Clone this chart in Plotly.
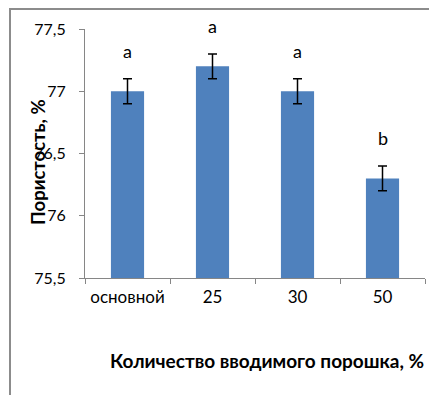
import plotly.graph_objects as go

categories = ["основной", "25", "30", "50"]
values = [77.0, 77.2, 77.0, 76.3]
errors = [0.1, 0.1, 0.1, 0.1]
letters = ["a", "a", "a", "b"]
y_ticks = [75.5, 76.0, 76.5, 77.0, 77.5]
y_ticktext = ["75,5", "76", "76,5", "77", "77,5"]

W, H = 437, 395
L, R, T, B = 77, 20, 21, 125
pw, ph = W - L - R, H - T - B

def px_x(p):
    return (p - L) / pw

def px_y(p):
    return (H - B - p) / ph

FONT = "Lato"

fig = go.Figure()
fig.add_trace(go.Bar(
    x=categories, y=values,
    marker=dict(color="#4F81BD", line=dict(width=0)),
    width=0.39,
    error_y=dict(type="data", array=errors, visible=True,
                 color="black", thickness=1.5, width=4.5),
))

annotations = []
for i, (v, e, t) in enumerate(zip(values, errors, letters)):
    annotations.append(dict(x=i, y=v + e, xref="x", yref="y", text=t,
                            showarrow=False, yanchor="bottom", yshift=15,
                            font=dict(family=FONT, size=18, color="black")))
annotations.append(dict(x=px_x(418), y=px_y(352), xref="paper", yref="paper",
                        text="<b>Количество вводимого порошка, %</b>",
                        showarrow=False, xanchor="right", yanchor="middle",
                        font=dict(family=FONT, size=19, color="black")))
annotations.append(dict(x=px_x(30), y=px_y(154), xref="paper", yref="paper",
                        text="<b>Пористость, %</b>", textangle=-90,
                        showarrow=False, xanchor="center", yanchor="middle",
                        font=dict(family=FONT, size=18.5, color="black")))

fig.update_layout(
    width=W, height=H,
    margin=dict(l=L, r=R, t=T, b=B, pad=0),
    paper_bgcolor="white", plot_bgcolor="white",
    separators=", ",
    showlegend=False,
    annotations=annotations,
    font=dict(family=FONT, size=15, color="black"),
    shapes=[dict(type="rect", xref="paper", yref="paper",
                 x0=px_x(2), x1=px_x(432), y0=px_y(393), y1=px_y(1),
                 line=dict(color="#8C8C8C", width=2), fillcolor="rgba(0,0,0,0)",
                 layer="below")],
    xaxis=dict(
        type="category",
        categoryorder="array", categoryarray=categories,
        range=[-0.5, len(categories) - 0.5],
        showline=True, linecolor="#868686", linewidth=1,
        ticks="outside", ticklen=5, tickcolor="#868686",
        tickson="boundaries", tickangle=0,
        ticklabelstandoff=4,
        showgrid=False, zeroline=False,
        tickfont=dict(family=FONT, size=17, color="black"),
    ),
    yaxis=dict(
        range=[75.5, 77.5],
        tickvals=y_ticks, ticktext=y_ticktext,
        showline=True, linecolor="#868686", linewidth=1,
        ticks="outside", ticklen=5, tickcolor="#868686",
        ticklabelstandoff=10,
        showgrid=False, zeroline=False,
        tickfont=dict(family=FONT, size=16, color="black"),
    ),
)

fig.write_html("out.html")
